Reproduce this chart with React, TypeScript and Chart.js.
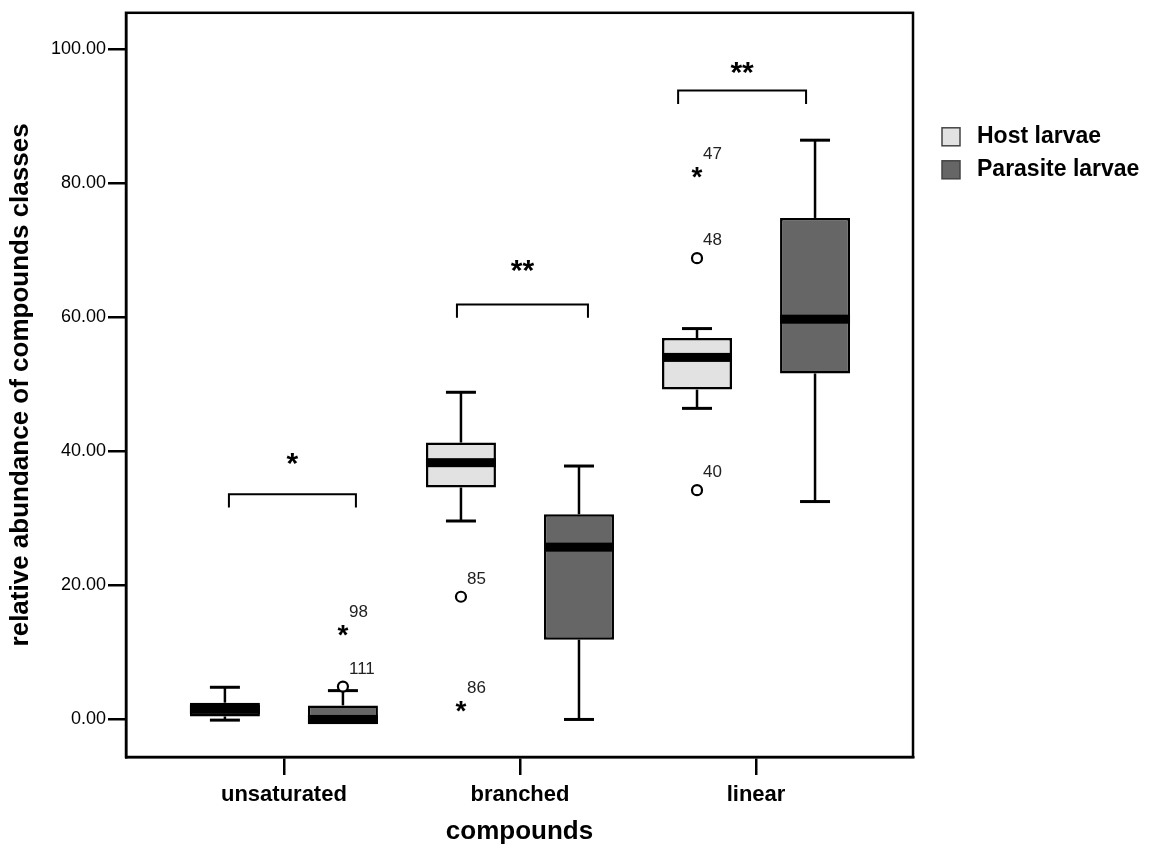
import React, { useEffect, useRef } from 'react';
import { Chart, registerables } from 'chart.js';

Chart.register(...registerables);

const FONT = "'Liberation Sans', Arial, Helvetica, sans-serif";

const categories = ['unsaturated', 'branched', 'linear'];
const seriesNames = ['Host larvae', 'Parasite larvae'];
const seriesColors = ['#e2e2e2', '#666666'];
const yTicks = [0, 20, 40, 60, 80, 100];

// Host larvae box statistics (per category)
const hostMin = [-0.1, 29.6, 46.4];
const hostQ1 = [0.45, 34.6, 49.2];
const hostMedian = [1.5, 38.3, 54.0];
const hostQ3 = [2.5, 41.3, 56.9];
const hostMax = [4.8, 48.8, 58.3];

// Parasite larvae box statistics (per category)
const parasiteMin = [-0.7, 0.0, 32.5];
const parasiteQ1 = [-0.7, 11.9, 51.6];
const parasiteMedian = [0.0, 25.7, 59.7];
const parasiteQ3 = [2.1, 30.6, 74.8];
const parasiteMax = [4.3, 37.8, 86.4];

// Outliers ("o" = outlier circle, "*" = extreme value)
const hostOutlierCat = [1, 1, 2, 2, 2];
const hostOutlierValue = [18.3, 2.0, 81.6, 68.8, 34.2];
const hostOutlierId = ['85', '86', '47', '48', '40'];
const hostOutlierKind = ['o', '*', '*', 'o', 'o'];

const parasiteOutlierCat = [0, 0];
const parasiteOutlierValue = [13.3, 4.9];
const parasiteOutlierId = ['98', '111'];
const parasiteOutlierKind = ['*', 'o'];

// Significance brackets (x relative to category, in category units)
const sigLabels = ['*', '**', '**'];
const bracketValue = [33.6, 61.9, 93.8];
const bracketDrop = 2.0;
const bracketFrom = [-0.233, -0.267, -0.33];
const bracketTo = [0.305, 0.288, 0.212];
const sigValue = [38.8, 67.7, 97.2];

const stats = [
  { min: hostMin, q1: hostQ1, med: hostMedian, q3: hostQ3, max: hostMax,
    oc: hostOutlierCat, ov: hostOutlierValue, oi: hostOutlierId, ok: hostOutlierKind },
  { min: parasiteMin, q1: parasiteQ1, med: parasiteMedian, q3: parasiteQ3, max: parasiteMax,
    oc: parasiteOutlierCat, ov: parasiteOutlierValue, oi: parasiteOutlierId, ok: parasiteOutlierKind },
];

function drawCenteredGlyph(ctx: CanvasRenderingContext2D, text: string, x: number, y: number) {
  const m = ctx.measureText(text);
  const asc = m.actualBoundingBoxAscent;
  const desc = m.actualBoundingBoxDescent;
  ctx.textBaseline = 'alphabetic';
  ctx.textAlign = 'center';
  ctx.fillText(text, x, y + (asc - desc) / 2);
}

const boxPlugin = {
  id: 'boxExtras',
  afterDatasetsDraw(chart: any) {
    const ctx: CanvasRenderingContext2D = chart.ctx;
    const ys = chart.scales.y;
    const xs = chart.scales.x;
    ctx.save();
    stats.forEach((s, di) => {
      const meta = chart.getDatasetMeta(di);
      meta.data.forEach((bar: any, i: number) => {
        const cx = bar.x;
        const w = bar.width;
        const yq1 = ys.getPixelForValue(s.q1[i]);
        const yq3 = ys.getPixelForValue(s.q3[i]);
        const ymin = ys.getPixelForValue(s.min[i]);
        const ymax = ys.getPixelForValue(s.max[i]);
        const ymed = ys.getPixelForValue(s.med[i]);
        ctx.strokeStyle = '#000';
        ctx.lineCap = 'butt';
        if (s.max[i] > s.q3[i]) {
          ctx.lineWidth = 2.5;
          ctx.beginPath();
          ctx.moveTo(cx, yq3);
          ctx.lineTo(cx, ymax);
          ctx.stroke();
          ctx.lineWidth = 3;
          ctx.beginPath();
          ctx.moveTo(cx - 15, ymax);
          ctx.lineTo(cx + 15, ymax);
          ctx.stroke();
        }
        if (s.min[i] < s.q1[i]) {
          ctx.lineWidth = 2.5;
          ctx.beginPath();
          ctx.moveTo(cx, yq1);
          ctx.lineTo(cx, ymin);
          ctx.stroke();
          ctx.lineWidth = 3;
          ctx.beginPath();
          ctx.moveTo(cx - 15, ymin);
          ctx.lineTo(cx + 15, ymin);
          ctx.stroke();
        }
        ctx.fillStyle = '#000';
        ctx.fillRect(cx - w / 2, ymed - 4.5, w, 9);
      });
      s.ov.forEach((v, k) => {
        const bar: any = meta.data[s.oc[k]];
        const cx = bar.x;
        const py = ys.getPixelForValue(v);
        if (s.ok[k] === 'o') {
          ctx.beginPath();
          ctx.arc(cx, py, 5, 0, Math.PI * 2);
          ctx.fillStyle = '#fff';
          ctx.fill();
          ctx.lineWidth = 2.2;
          ctx.strokeStyle = '#000';
          ctx.stroke();
        } else {
          ctx.fillStyle = '#000';
          ctx.font = `bold 28px ${FONT}`;
          drawCenteredGlyph(ctx, '*', cx, py);
        }
        ctx.fillStyle = '#222';
        ctx.font = `17px ${FONT}`;
        ctx.textAlign = 'left';
        ctx.textBaseline = 'alphabetic';
        ctx.fillText(s.oi[k], cx + 6, py - 13);
      });
    });
    categories.forEach((_, i) => {
      const x1 = xs.getPixelForValue(i + bracketFrom[i]);
      const x2 = xs.getPixelForValue(i + bracketTo[i]);
      const yb = ys.getPixelForValue(bracketValue[i]);
      const yd = ys.getPixelForValue(bracketValue[i] - bracketDrop);
      ctx.strokeStyle = '#000';
      ctx.lineWidth = 2;
      ctx.beginPath();
      ctx.moveTo(x1, yd);
      ctx.lineTo(x1, yb);
      ctx.lineTo(x2, yb);
      ctx.lineTo(x2, yd);
      ctx.stroke();
      ctx.fillStyle = '#000';
      ctx.font = `bold 30px ${FONT}`;
      drawCenteredGlyph(ctx, sigLabels[i], (x1 + x2) / 2, ys.getPixelForValue(sigValue[i]));
    });
    ctx.restore();
  },
  afterDraw(chart: any) {
    const ctx: CanvasRenderingContext2D = chart.ctx;
    const a = chart.chartArea;
    ctx.save();
    ctx.strokeStyle = '#000';
    ctx.lineWidth = 2.5;
    ctx.strokeRect(a.left, a.top, a.right - a.left, a.bottom - a.top);
    const lx = a.right + 29;
    chart.data.datasets.forEach((ds: any, i: number) => {
      const cy = a.top + 124 + i * 33;
      ctx.fillStyle = ds.backgroundColor;
      ctx.fillRect(lx, cy - 9, 18, 18);
      ctx.strokeStyle = '#444';
      ctx.lineWidth = 1.5;
      ctx.strokeRect(lx, cy - 9, 18, 18);
      ctx.fillStyle = '#000';
      ctx.font = `bold 23px ${FONT}`;
      ctx.textAlign = 'left';
      ctx.textBaseline = 'middle';
      ctx.fillText(ds.label, lx + 35, cy);
    });
    ctx.restore();
  },
};

export default function App() {
  const ref = useRef<HTMLCanvasElement>(null);
  useEffect(() => {
    if (!ref.current) return;
    const chart = new Chart(ref.current, {
      type: 'bar',
      data: {
        datasets: [
          {
            label: seriesNames[0],
            data: categories.map((_, i) => ({ x: i, y: [hostQ1[i], hostQ3[i]] })) as any,
            backgroundColor: seriesColors[0],
            borderColor: '#000',
            borderWidth: 2.5,
            borderSkipped: false,
            categoryPercentage: 1,
            barPercentage: 0.593,
          },
          {
            label: seriesNames[1],
            data: categories.map((_, i) => ({ x: i, y: [parasiteQ1[i], parasiteQ3[i]] })) as any,
            backgroundColor: seriesColors[1],
            borderColor: '#000',
            borderWidth: 2.5,
            borderSkipped: false,
            categoryPercentage: 1,
            barPercentage: 0.593,
          },
        ],
      },
      options: {
        animation: false,
        responsive: true,
        maintainAspectRatio: false,
        layout: { padding: { top: 12, right: 237, bottom: 0, left: 0 } },
        plugins: { legend: { display: false }, tooltip: { enabled: false } },
        scales: {
          x: {
            type: 'linear',
            min: -0.669,
            max: 2.665,
            offset: false,
            afterBuildTicks: (s: any) => { s.ticks = categories.map((_, i) => ({ value: i })); },
            afterFit: (s: any) => { s.height = 92; },
            ticks: {
              callback: (v: any) => categories[v as number] ?? '',
              font: { family: FONT, size: 22, weight: 'bold' },
              color: '#000',
              padding: 7,
              maxRotation: 0,
              autoSkip: false,
            },
            grid: { display: true, drawOnChartArea: false, drawTicks: true, tickLength: 18, color: '#000', lineWidth: 2.5, offset: false },
            border: { display: true, color: '#000', width: 2.5 },
            title: {
              display: true,
              text: 'compounds',
              font: { family: FONT, size: 26, weight: 'bold' },
              color: '#000',
              padding: { top: 0, bottom: 2 },
            },
          } as any,
          y: {
            type: 'linear',
            min: -5.6,
            max: 105.4,
            afterBuildTicks: (s: any) => { s.ticks = yTicks.map((v) => ({ value: v })); },
            afterFit: (s: any) => { s.width = 126; },
            ticks: {
              callback: (v: any) => Number(v).toFixed(2),
              font: { family: FONT, size: 18 },
              color: '#000',
              padding: 2,
            },
            grid: { display: true, drawOnChartArea: false, drawTicks: true, tickLength: 18, color: '#000', lineWidth: 2.5 },
            border: { display: true, color: '#000', width: 2.5 },
            title: {
              display: true,
              text: 'relative abundance of compounds classes',
              font: { family: FONT, size: 26, weight: 'bold' },
              color: '#000',
              padding: { top: 5, bottom: 0 },
            },
          } as any,
        },
      },
      plugins: [boxPlugin as any],
    });
    return () => chart.destroy();
  }, []);
  return (
    <div style={{ position: 'fixed', left: 0, top: 0, width: 1150, height: 849, background: '#fff' }}>
      <canvas ref={ref} />
    </div>
  );
}
